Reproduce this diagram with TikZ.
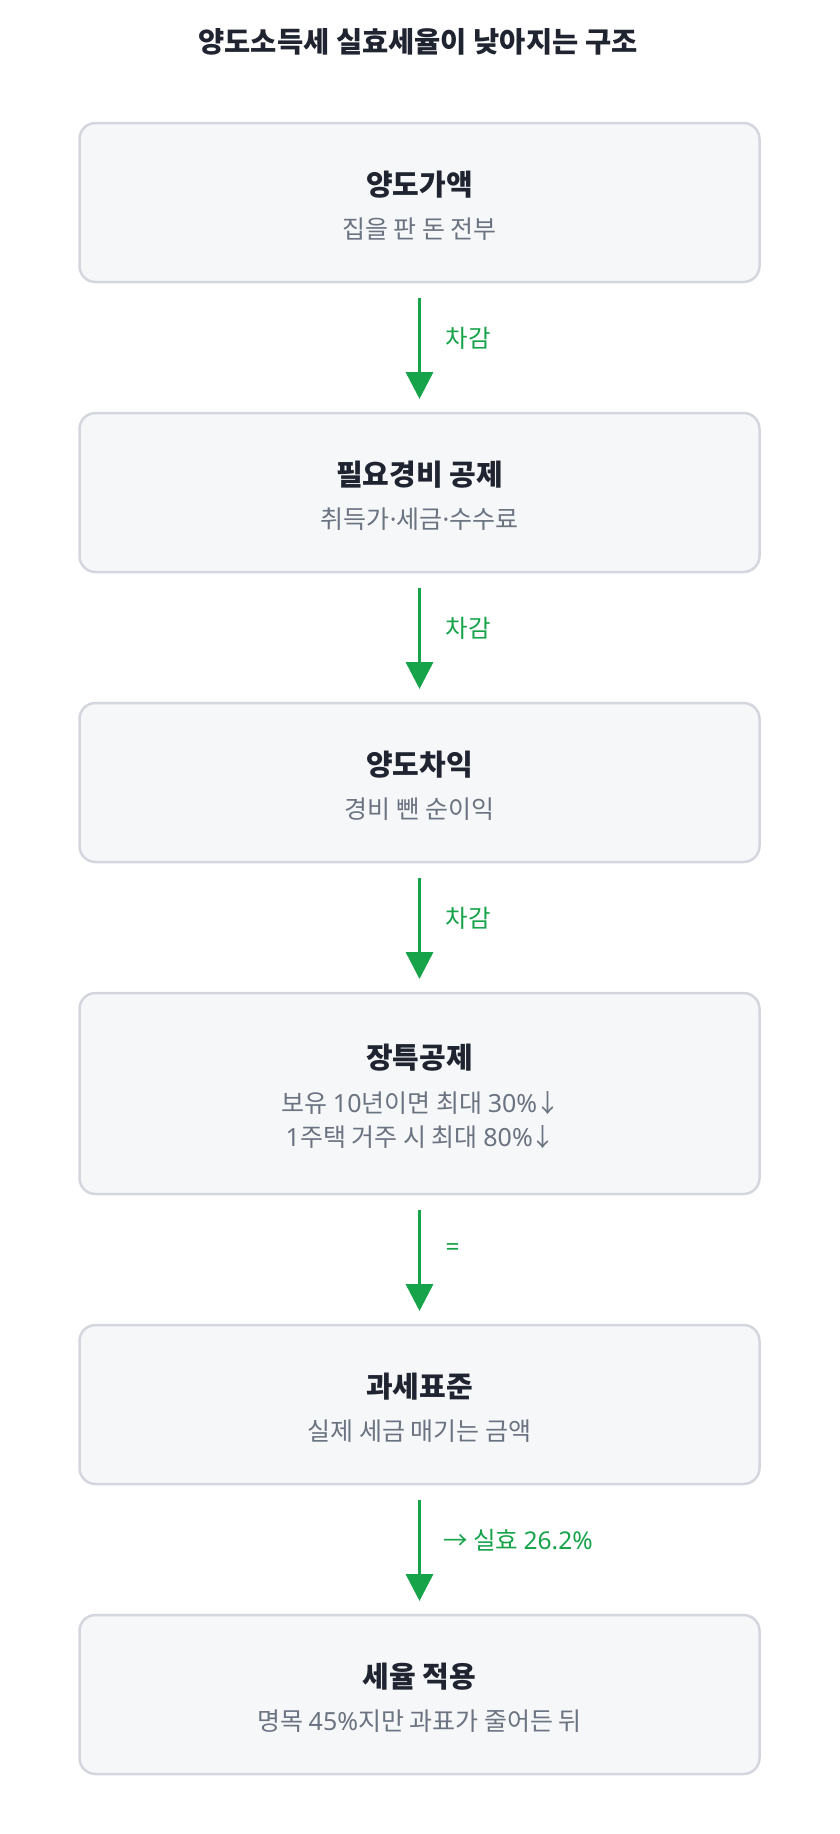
\documentclass[tikz,border=0pt]{standalone}
\usepackage{fontspec}
\setmainfont{Noto Sans CJK KR}
\newfontfamily\latin{Noto Sans}
\newcommand{\num}[1]{{\latin #1}}
\newcommand{\dotsep}{{\latin ·}}
\newcommand{\down}{{\kern-0.08em↓\kern-0.1em}}
\newcommand{\toward}{{\kern-0.1em→}}
\usepackage{tikz}
\usetikzlibrary{arrows.meta, positioning}
\definecolor{boxfill}{HTML}{F6F7F9}
\definecolor{boxline}{HTML}{D3D6DC}
\definecolor{headtext}{HTML}{1F2430}
\definecolor{subtext}{HTML}{6B7280}
\definecolor{flowgreen}{HTML}{16A34A}
\tikzstyle{stage} = [rectangle, rounded corners=16pt, minimum width=680pt, minimum height=159pt, outer sep=0pt, draw=boxline, line width=2.5pt, fill=boxfill]
\tikzstyle{heading} = [font=\fontsize{29}{34}\selectfont\bfseries, text=headtext]
\tikzstyle{detail} = [font=\fontsize{25}{34}\selectfont, text=subtext, align=center]
\tikzstyle{flow} = [draw=flowgreen, line width=3.5pt, -{Triangle[length=27pt, width=27pt]}, shorten <=16pt, shorten >=14pt]
\tikzstyle{flowlabel} = [font=\fontsize{24.5}{28}\selectfont, text=flowgreen, anchor=west, xshift=21pt, yshift=9.5pt]

\begin{document}
\begin{tikzpicture}[x=1pt, y=-1pt, node distance=131pt]
\useasboundingbox (0,0) rectangle (840,1834);
\node (title) [heading, font=\fontsize{28.5}{32}\selectfont\bfseries] at (418,42) {양도소득세 실효세율이 낮아지는 구조};
\node (s1) [stage] at (419.5,202.5) {};
\node (s2) [stage, below=of s1] {};
\node (s3) [stage, below=of s2] {};
\node (s4) [stage, below=of s3, minimum height=201pt] {};
\node (s5) [stage, below=of s4] {};
\node (s6) [stage, below=of s5] {};
\node (h1) [heading] at ([yshift=-62pt]s1.north) {양도가액};
\node (d1) [detail] at ([yshift=-106.5pt]s1.north) {집을 판 돈 전부};
\node (h2) [heading] at ([yshift=-62pt]s2.north) {필요경비 공제};
\node (d2) [detail] at ([yshift=-106.5pt]s2.north) {취득가\dotsep 세금\dotsep 수수료};
\node (h3) [heading] at ([yshift=-62pt]s3.north) {양도차익};
\node (d3) [detail] at ([yshift=-106.5pt]s3.north) {경비 뺀 순이익};
\node (h4) [heading] at ([yshift=-65pt]s4.north) {장특공제};
\node (d4) [detail] at ([yshift=-127pt]s4.north) {보유 \num{10}년이면 최대 \num{30\%}\down\\\num{1}주택 거주 시 최대 \num{80\%}\down};
\node (h5) [heading] at ([yshift=-62pt]s5.north) {과세표준};
\node (d5) [detail] at ([yshift=-106.5pt]s5.north) {실제 세금 매기는 금액};
\node (h6) [heading] at ([yshift=-62pt]s6.north) {세율 적용};
\node (d6) [detail] at ([yshift=-106.5pt]s6.north) {명목 \num{45\%}지만 과표가 줄어든 뒤};
\draw[flow] (s1) -- (s2) node[flowlabel, midway] {차감};
\draw[flow] (s2) -- (s3) node[flowlabel, midway] {차감};
\draw[flow] (s3) -- (s4) node[flowlabel, midway] {차감};
\draw[flow] (s4) -- (s5) node[flowlabel, midway] {\num{=}};
\draw[flow] (s5) -- (s6) node[flowlabel, midway] {\toward\ 실효 \num{26.2\%}};
\end{tikzpicture}
\end{document}
